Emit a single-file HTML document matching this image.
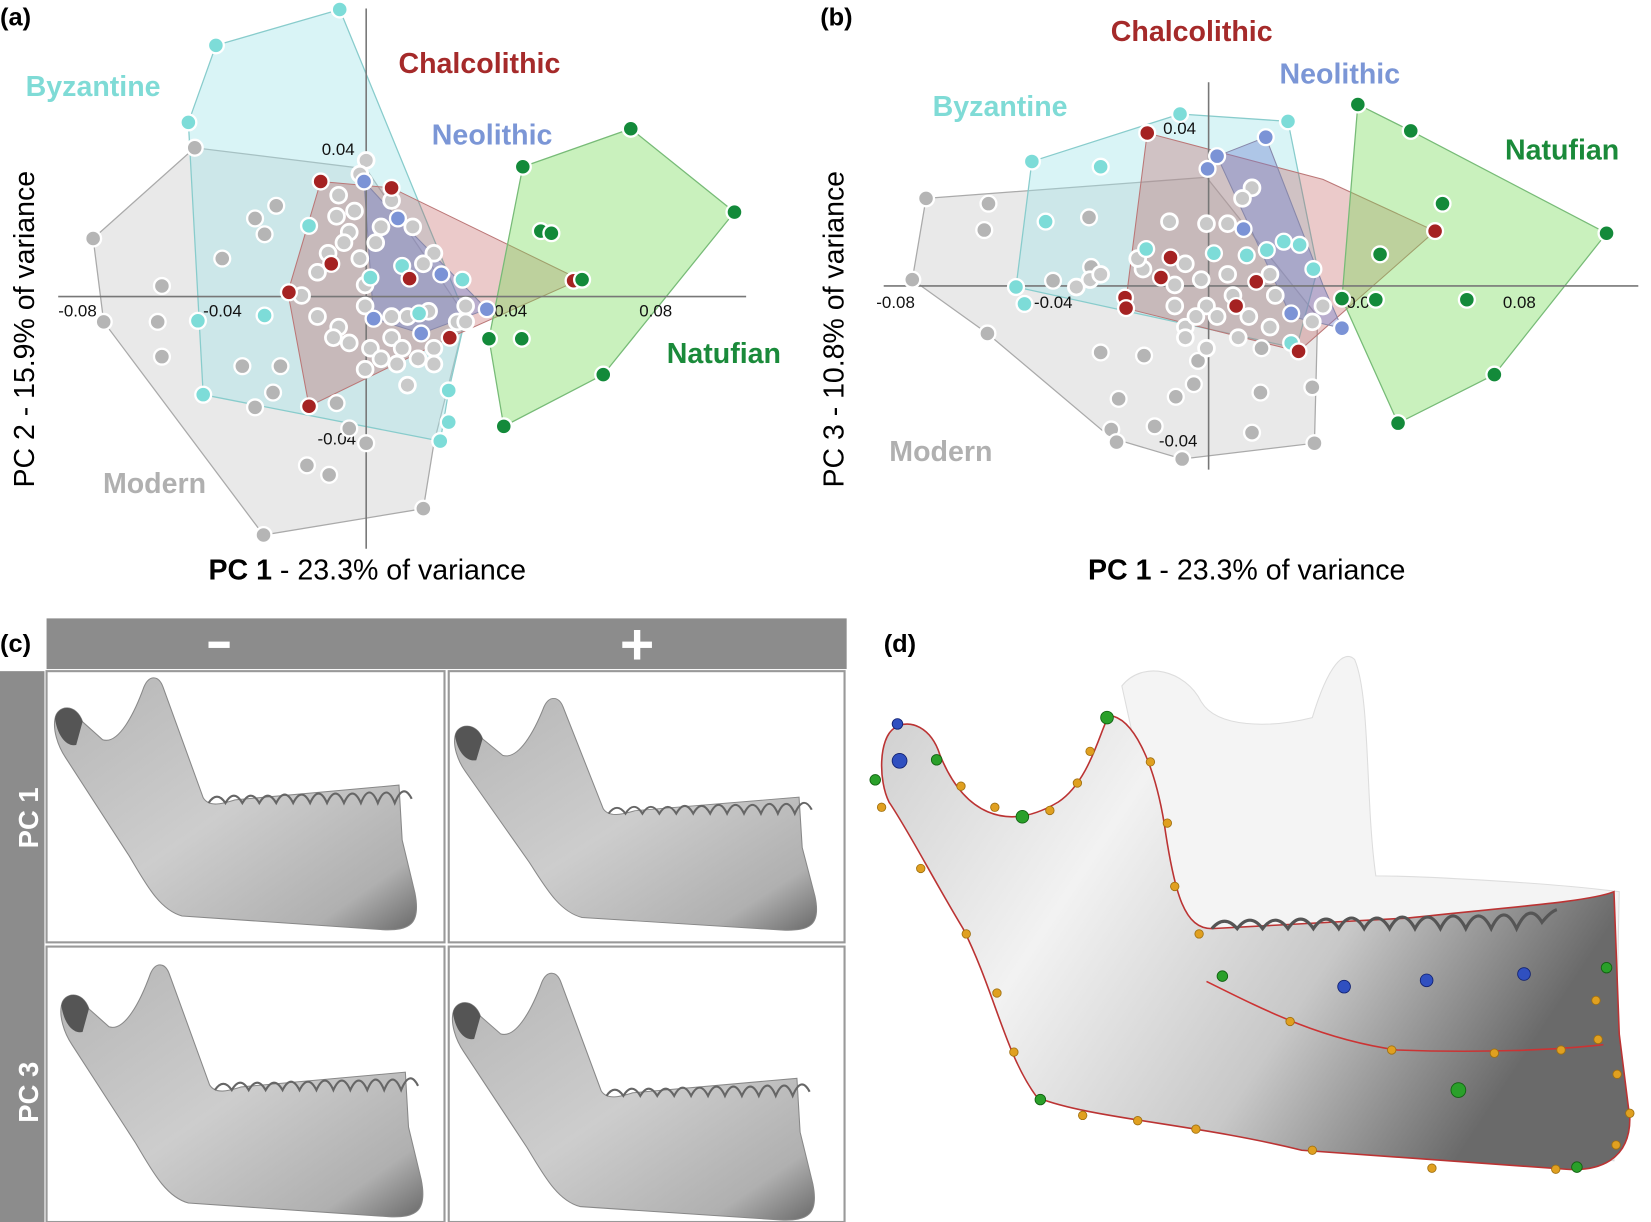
<!DOCTYPE html>
<html><head><meta charset="utf-8"><style>
html,body{margin:0;padding:0;background:#fff}
svg{display:block}
text{font-family:"Liberation Sans",sans-serif}
.pt circle{r:7.5;stroke:#fff;stroke-width:2.2}
.c circle{fill:#7ddcd8}.r circle{fill:#a52222}.b circle{fill:#7b93d6}.g circle{fill:#138a3a}.k circle{fill:#b5b5b5}.w circle{fill:#c9c9c9;stroke-width:2.6}
.tk{font-size:16px;fill:#111}
.lb{font-size:27px;font-weight:bold}
</style></head><body>
<svg width="1651" height="1222" viewBox="0 0 1560 1158" preserveAspectRatio="none" xmlns="http://www.w3.org/2000/svg">
<defs>
<linearGradient id="jg" x1="0" y1="0" x2="1" y2="1"><stop offset="0" stop-color="#b5b5b5"/><stop offset="0.5" stop-color="#cdcdcd"/><stop offset="0.85" stop-color="#b0b0b0"/><stop offset="1" stop-color="#6a6a6a"/></linearGradient>
<linearGradient id="bg" x1="0" y1="0" x2="1" y2="0.4"><stop offset="0" stop-color="#d0d0d0"/><stop offset="0.35" stop-color="#f2f2f2"/><stop offset="0.7" stop-color="#c8c8c8"/><stop offset="1" stop-color="#6a6a6a"/></linearGradient>
<g id="jaw">
<path d="M10,45 C12,32 30,30 36,48 L55,65 C70,70 85,40 94,15 C99,3 108,4 112,15 L150,120 C156,130 170,125 180,122 L335,108 L338,160 L350,210 C356,240 345,246 320,245 L130,232 C108,226 95,200 80,175 L20,82 C12,70 8,55 10,45 Z" fill="url(#jg)" stroke="#888" stroke-width="1"/>
<path d="M155,125 q8,-12 16,0 q8,-14 16,0 q8,-14 16,0 q8,-14 16,0 q8,-16 16,0 q8,-16 16,0 q8,-18 16,0 q8,-18 16,0 q8,-18 16,0 q8,-20 16,0 q8,-20 16,0 q8,-20 16,-4" fill="none" stroke="#666" stroke-width="2"/>
<path d="M10,45 C12,32 30,30 36,48 L30,70 C20,72 12,60 10,45Z" fill="#555"/>
</g>
</defs>
<text x="0" y="24" font-size="24" font-weight="bold">(a)</text>
<text x="775" y="24" font-size="24" font-weight="bold">(b)</text>
<polygon points="88,226 184,140 346,160 440,300 410,420 400,482 249,507 98,305" fill="rgba(215,215,215,0.55)" stroke="#aaa" stroke-width="1.2"/>
<polygon points="204,43 321,9 440,300 424,370 416,418 192,374 178,116" fill="rgba(160,228,232,0.4)" stroke="#8cc" stroke-width="1.2"/>
<polygon points="303,172 370,178 548,265 425,320 292,385 272,277" fill="rgba(190,80,80,0.3)" stroke="#b77" stroke-width="1"/>
<polygon points="344,172 376,207 460,293 398,316 353,302" fill="rgba(110,130,210,0.4)" stroke="#88a" stroke-width="1"/>
<polygon points="494,158 596,122 694,201 570,355 476,404 462,321" fill="rgba(120,220,90,0.4)" stroke="#7b7" stroke-width="1.2"/>
<line x1="55" y1="281" x2="705" y2="281" stroke="#777" stroke-width="1.5"/>
<line x1="346" y1="8" x2="346" y2="520" stroke="#777" stroke-width="1.5"/>
<text class="tk" x="55" y="300">-0.08</text><text class="tk" x="192" y="300">-0.04</text><text class="tk" x="467" y="300">0.04</text><text class="tk" x="604" y="300">0.08</text>
<text class="tk" x="304" y="147">0.04</text><text class="tk" x="300" y="421">-0.04</text>
<text x="32" y="312" font-size="27" text-anchor="middle" transform="rotate(-90 32 312)">PC 2 - 15.9% of variance</text>
<text x="347" y="549" font-size="27" text-anchor="middle"><tspan font-weight="bold">PC 1</tspan> - 23.3% of variance</text>
<text class="lb" x="88" y="91" fill="#7fdbd6" text-anchor="middle">Byzantine</text>
<text class="lb" x="453" y="69" fill="#a52a2a" text-anchor="middle">Chalcolithic</text>
<text class="lb" x="465" y="137" fill="#7b96d6" text-anchor="middle">Neolithic</text>
<text class="lb" x="684" y="344" fill="#1a8a3a" text-anchor="middle">Natufian</text>
<text class="lb" x="146" y="467" fill="#b0b0b0" text-anchor="middle">Modern</text>
<g class="pt k"><circle cx="184" cy="140"/><circle cx="88" cy="226"/><circle cx="153" cy="271"/><circle cx="210" cy="245"/><circle cx="241" cy="207"/><circle cx="261" cy="195"/><circle cx="250" cy="222"/><circle cx="149" cy="305"/><circle cx="98" cy="305"/><circle cx="153" cy="338"/><circle cx="229" cy="347"/><circle cx="265" cy="347"/><circle cx="258" cy="372"/><circle cx="241" cy="386"/><circle cx="290" cy="441"/><circle cx="311" cy="450"/><circle cx="249" cy="507"/><circle cx="400" cy="482"/><circle cx="346" cy="420"/><circle cx="330" cy="406"/><circle cx="318" cy="382"/></g>
<g class="pt w"><circle cx="320" cy="185"/><circle cx="346" cy="152"/><circle cx="340" cy="165"/><circle cx="318" cy="205"/><circle cx="330" cy="220"/><circle cx="300" cy="258"/><circle cx="285" cy="280"/><circle cx="340" cy="245"/><circle cx="355" cy="230"/><circle cx="335" cy="200"/><circle cx="360" cy="215"/><circle cx="390" cy="215"/><circle cx="345" cy="270"/><circle cx="320" cy="310"/><circle cx="330" cy="325"/><circle cx="350" cy="330"/><circle cx="345" cy="350"/><circle cx="360" cy="340"/><circle cx="370" cy="320"/><circle cx="380" cy="330"/><circle cx="385" cy="300"/><circle cx="395" cy="340"/><circle cx="405" cy="295"/><circle cx="410" cy="330"/><circle cx="432" cy="305"/><circle cx="440" cy="290"/><circle cx="410" cy="240"/><circle cx="400" cy="250"/><circle cx="370" cy="190"/><circle cx="325" cy="230"/><circle cx="310" cy="240"/><circle cx="345" cy="290"/><circle cx="315" cy="320"/><circle cx="370" cy="300"/><circle cx="385" cy="365"/><circle cx="375" cy="345"/><circle cx="410" cy="345"/><circle cx="440" cy="305"/><circle cx="300" cy="300"/></g>
<g class="pt c"><circle cx="321" cy="9"/><circle cx="204" cy="43"/><circle cx="178" cy="116"/><circle cx="292" cy="214"/><circle cx="350" cy="263"/><circle cx="380" cy="252"/><circle cx="437" cy="265"/><circle cx="396" cy="297"/><circle cx="250" cy="299"/><circle cx="187" cy="304"/><circle cx="192" cy="374"/><circle cx="424" cy="370"/><circle cx="424" cy="400"/><circle cx="416" cy="418"/></g>
<g class="pt b"><circle cx="344" cy="172"/><circle cx="376" cy="207"/><circle cx="417" cy="260"/><circle cx="353" cy="302"/><circle cx="398" cy="316"/><circle cx="460" cy="293"/></g>
<g class="pt r"><circle cx="303" cy="172"/><circle cx="370" cy="178"/><circle cx="313" cy="250"/><circle cx="387" cy="264"/><circle cx="273" cy="277"/><circle cx="425" cy="320"/><circle cx="292" cy="385"/><circle cx="542" cy="266"/></g>
<g class="pt g"><circle cx="494" cy="158"/><circle cx="596" cy="122"/><circle cx="694" cy="201"/><circle cx="511" cy="219"/><circle cx="521" cy="221"/><circle cx="550" cy="265"/><circle cx="462" cy="321"/><circle cx="493" cy="321"/><circle cx="570" cy="355"/><circle cx="476" cy="404"/></g>
<polygon points="875,188 1140,168 1245,300 1242,420 1117,435 1050,415 933,316 862,265" fill="rgba(215,215,215,0.55)" stroke="#aaa" stroke-width="1.2"/>
<polygon points="975,153 1115,108 1217,115 1245,255 1225,330 960,272" fill="rgba(160,228,232,0.4)" stroke="#8cc" stroke-width="1.2"/>
<polygon points="1084,126 1250,170 1356,219 1227,333 1063,292" fill="rgba(190,80,80,0.3)" stroke="#b77" stroke-width="1"/>
<polygon points="1150,148 1196,130 1250,270 1268,311 1220,300" fill="rgba(110,130,210,0.4)" stroke="#88a" stroke-width="1"/>
<polygon points="1283,99 1333,124 1518,221 1412,355 1321,401 1268,283" fill="rgba(120,220,90,0.4)" stroke="#7b7" stroke-width="1.2"/>
<line x1="835" y1="271" x2="1548" y2="271" stroke="#777" stroke-width="1.5"/>
<line x1="1142" y1="78" x2="1142" y2="445" stroke="#777" stroke-width="1.5"/>
<text class="tk" x="828" y="292">-0.08</text><text class="tk" x="977" y="292">-0.04</text><text class="tk" x="1272" y="292">0.04</text><text class="tk" x="1420" y="292">0.08</text>
<text class="tk" x="1099" y="127">0.04</text><text class="tk" x="1095" y="423">-0.04</text>
<text x="797" y="312" font-size="27" text-anchor="middle" transform="rotate(-90 797 312)">PC 3 - 10.8% of variance</text>
<text x="1178" y="549" font-size="27" text-anchor="middle"><tspan font-weight="bold">PC 1</tspan> - 23.3% of variance</text>
<text class="lb" x="1126" y="39" fill="#a52a2a" text-anchor="middle">Chalcolithic</text>
<text class="lb" x="1266" y="79" fill="#7b96d6" text-anchor="middle">Neolithic</text>
<text class="lb" x="945" y="110" fill="#7fdbd6" text-anchor="middle">Byzantine</text>
<text class="lb" x="1476" y="151" fill="#1a8a3a" text-anchor="middle">Natufian</text>
<text class="lb" x="889" y="437" fill="#b0b0b0" text-anchor="middle">Modern</text>
<g class="pt k"><circle cx="875" cy="188"/><circle cx="934" cy="193"/><circle cx="930" cy="218"/><circle cx="862" cy="265"/><circle cx="933" cy="316"/><circle cx="1029" cy="206"/><circle cx="1031" cy="253"/><circle cx="995" cy="266"/><circle cx="1040" cy="334"/><circle cx="1081" cy="337"/><circle cx="1057" cy="378"/><circle cx="1050" cy="407"/><circle cx="1055" cy="419"/><circle cx="1091" cy="404"/><circle cx="1111" cy="376"/><circle cx="1117" cy="435"/><circle cx="1183" cy="410"/><circle cx="1242" cy="420"/><circle cx="1240" cy="367"/><circle cx="1191" cy="372"/><circle cx="1128" cy="364"/><circle cx="1132" cy="342"/><circle cx="1192" cy="330"/></g>
<g class="pt w"><circle cx="1105" cy="210"/><circle cx="1140" cy="212"/><circle cx="1160" cy="212"/><circle cx="1183" cy="178"/><circle cx="1174" cy="188"/><circle cx="1120" cy="250"/><circle cx="1080" cy="255"/><circle cx="1075" cy="245"/><circle cx="1110" cy="270"/><circle cx="1135" cy="265"/><circle cx="1160" cy="260"/><circle cx="1165" cy="280"/><circle cx="1140" cy="290"/><circle cx="1110" cy="290"/><circle cx="1120" cy="310"/><circle cx="1150" cy="300"/><circle cx="1180" cy="300"/><circle cx="1200" cy="310"/><circle cx="1140" cy="330"/><circle cx="1170" cy="320"/><circle cx="1120" cy="320"/><circle cx="1205" cy="280"/><circle cx="1200" cy="260"/><circle cx="1017" cy="272"/><circle cx="1030" cy="265"/><circle cx="1040" cy="260"/><circle cx="1130" cy="300"/><circle cx="1250" cy="290"/><circle cx="1240" cy="305"/></g>
<g class="pt c"><circle cx="1115" cy="108"/><circle cx="1217" cy="115"/><circle cx="975" cy="153"/><circle cx="1040" cy="158"/><circle cx="988" cy="210"/><circle cx="960" cy="272"/><circle cx="968" cy="288"/><circle cx="1083" cy="236"/><circle cx="1147" cy="240"/><circle cx="1178" cy="242"/><circle cx="1197" cy="237"/><circle cx="1213" cy="229"/><circle cx="1228" cy="232"/><circle cx="1241" cy="255"/><circle cx="1220" cy="325"/></g>
<g class="pt b"><circle cx="1150" cy="148"/><circle cx="1196" cy="130"/><circle cx="1141" cy="160"/><circle cx="1175" cy="217"/><circle cx="1220" cy="297"/><circle cx="1268" cy="311"/></g>
<g class="pt r"><circle cx="1084" cy="126"/><circle cx="1106" cy="244"/><circle cx="1097" cy="263"/><circle cx="1063" cy="282"/><circle cx="1064" cy="292"/><circle cx="1187" cy="267"/><circle cx="1168" cy="290"/><circle cx="1356" cy="219"/><circle cx="1227" cy="333"/></g>
<g class="pt g"><circle cx="1283" cy="99"/><circle cx="1333" cy="124"/><circle cx="1363" cy="193"/><circle cx="1304" cy="241"/><circle cx="1518" cy="221"/><circle cx="1386" cy="284"/><circle cx="1412" cy="355"/><circle cx="1321" cy="401"/><circle cx="1268" cy="283"/><circle cx="1300" cy="284"/></g>
<text x="0" y="618" font-size="24" font-weight="bold">(c)</text>
<rect x="44" y="586" width="756" height="48" fill="#8c8c8c"/>
<rect x="0" y="636" width="42" height="522" fill="#8c8c8c"/>
<rect x="197" y="608" width="20" height="6" fill="#fff"/>
<rect x="588" y="608" width="28" height="6" fill="#fff"/><rect x="599" y="597" width="6" height="28" fill="#fff"/>
<text x="36" y="775" font-size="26" font-weight="bold" fill="#fff" text-anchor="middle" transform="rotate(-90 36 775)">PC 1</text>
<text x="36" y="1035" font-size="26" font-weight="bold" fill="#fff" text-anchor="middle" transform="rotate(-90 36 1035)">PC 3</text>
<rect x="44" y="636" width="376" height="257" fill="#fff" stroke="#999" stroke-width="2"/>
<rect x="424" y="636" width="374" height="257" fill="#fff" stroke="#999" stroke-width="2"/>
<rect x="44" y="897" width="376" height="261" fill="#fff" stroke="#999" stroke-width="2"/>
<rect x="424" y="897" width="374" height="261" fill="#fff" stroke="#999" stroke-width="2"/>
<use href="#jaw" transform="translate(42,636)"/>
<use href="#jaw" transform="translate(420,656) scale(1,0.92)"/>
<use href="#jaw" transform="translate(48,908)"/>
<use href="#jaw" transform="translate(418,916) scale(1,0.98)"/>
<text x="835" y="618" font-size="24" font-weight="bold">(d)</text>
<path d="M1060,650 C1080,625 1120,635 1135,665 C1150,690 1200,690 1240,680 C1255,630 1270,615 1280,625 C1295,660 1290,760 1300,830 C1330,830 1450,835 1530,845 L1525,1100 L1150,1060 Z" fill="#f4f4f4" stroke="#ddd" stroke-width="1"/>
<path d="M845,690 C860,680 880,690 888,715 C910,770 950,790 1000,760 C1030,740 1040,690 1048,678 C1070,680 1090,720 1100,780 C1110,850 1120,880 1145,880 L1330,870 C1420,860 1500,855 1525,845 L1530,980 L1540,1060 C1540,1100 1510,1110 1480,1108 L1230,1090 C1130,1065 1030,1060 980,1040 C950,1000 940,940 910,880 C880,830 860,790 840,760 C830,740 830,700 845,690 Z" fill="url(#bg)" stroke="#b33" stroke-width="1.5"/>
<path d="M1145,880 q12,-14 24,0 q12,-16 24,0 q12,-16 24,0 q12,-18 24,0 q12,-18 24,0 q12,-20 24,0 q12,-20 24,0 q12,-22 24,0 q12,-22 24,0 q12,-24 24,0 q12,-24 24,0 q12,-26 24,0 q12,-26 24,-6 q8,-10 14,-12" fill="none" stroke="#555" stroke-width="3"/>
<path d="M1140,930 C1200,960 1250,985 1320,995 C1400,998 1470,995 1515,990" fill="none" stroke="#c33" stroke-width="1.5"/>
<g fill="#e0a020" stroke="#a07010" stroke-width="0.8">
<circle cx="833" cy="765" r="4"/><circle cx="870" cy="823" r="4"/><circle cx="913" cy="885" r="4"/><circle cx="942" cy="941" r="4"/><circle cx="958" cy="997" r="4"/><circle cx="1023" cy="1057" r="4"/><circle cx="1075" cy="1062" r="4"/><circle cx="1130" cy="1070" r="4"/><circle cx="1240" cy="1090" r="4"/><circle cx="1353" cy="1107" r="4"/><circle cx="1470" cy="1108" r="4"/><circle cx="1527" cy="1085" r="4"/><circle cx="1540" cy="1055" r="4"/><circle cx="1528" cy="1018" r="4"/><circle cx="1510" cy="985" r="4"/><circle cx="1508" cy="948" r="4"/><circle cx="1219" cy="968" r="4"/><circle cx="1315" cy="995" r="4"/><circle cx="1412" cy="998" r="4"/><circle cx="1475" cy="995" r="4"/><circle cx="1133" cy="885" r="4"/><circle cx="1110" cy="840" r="4"/><circle cx="1103" cy="780" r="4"/><circle cx="1087" cy="722" r="4"/><circle cx="1030" cy="712" r="4"/><circle cx="1018" cy="742" r="4"/><circle cx="992" cy="768" r="4"/><circle cx="940" cy="765" r="4"/><circle cx="908" cy="745" r="4"/></g>
<g fill="#2aa02a" stroke="#106010" stroke-width="0.8">
<circle cx="1046" cy="680" r="6"/><circle cx="885" cy="720" r="5"/><circle cx="827" cy="739" r="5"/><circle cx="966" cy="774" r="6"/><circle cx="1155" cy="925" r="5"/><circle cx="1518" cy="917" r="5"/><circle cx="1378" cy="1033" r="7"/><circle cx="983" cy="1042" r="5"/><circle cx="1490" cy="1106" r="5"/></g>
<g fill="#3050c0" stroke="#102070" stroke-width="0.8">
<circle cx="850" cy="721" r="7"/><circle cx="848" cy="686" r="5"/><circle cx="1270" cy="935" r="6"/><circle cx="1348" cy="929" r="6"/><circle cx="1440" cy="923" r="6"/></g>
</svg>
</body></html>
